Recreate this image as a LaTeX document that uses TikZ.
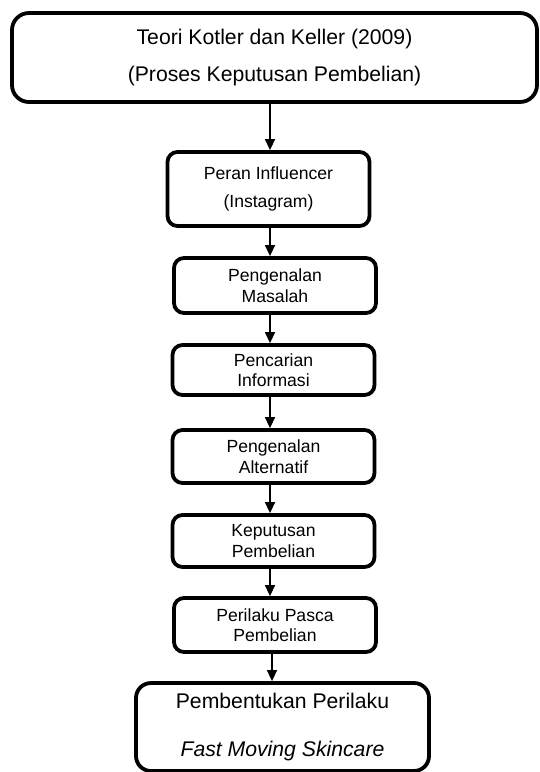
\documentclass[tikz,border=0pt]{standalone}
\usepackage{fontspec}
\setmainfont{Liberation Sans}
\usetikzlibrary{arrows.meta}
\tikzset{
  box/.style={draw=black, line width=3.8pt, fill=white, align=center, inner sep=2pt},
  bigbox/.style={box, rounded corners=17pt, font=\fontsize{21.2}{37}\selectfont},
  midbox/.style={box, rounded corners=10pt, minimum width=202pt, font=\fontsize{17.6}{20.5}\selectfont},
  arr/.style={line width=1.4pt, -{Triangle[length=11pt,width=10pt]}}
}
\begin{document}
\begin{tikzpicture}[x=1pt,y=-1pt]
\useasboundingbox (0,0) rectangle (539,772);
\node[bigbox, minimum width=525pt, minimum height=89pt] (top) at (274.5,57.5) {Teori Kotler dan Keller (2009)\\(Proses Keputusan Pembelian)};
\node[midbox, minimum height=74pt, font=\fontsize{17.6}{28}\selectfont] (b2) at (268.5,189) {Peran Influencer\\(Instagram)};
\node[midbox, minimum height=55pt] (b3) at (275,285.5) {Pengenalan\\Masalah};
\node[midbox, minimum height=50pt] (b4) at (273.5,370) {Pencarian\\Informasi};
\node[midbox, minimum height=53pt] (b5) at (273.5,456.5) {Pengenalan\\Alternatif};
\node[midbox, minimum height=52pt] (b6) at (273.5,541) {Keputusan\\Pembelian};
\node[midbox, minimum height=54pt] (b7) at (275,625) {Perilaku Pasca\\Pembelian};
\node[bigbox, rounded corners=15pt, minimum width=293pt, minimum height=88pt, font=\fontsize{21.2}{48}\selectfont] (b8) at (282.5,727) {Pembentukan Perilaku\\\textit{Fast Moving Skincare}};
\coordinate (ax) at (270,0);
\draw[arr] (top.south -| ax) -- (b2.north -| ax);
\draw[arr] (b2.south -| ax) -- (b3.north -| ax);
\draw[arr] (b3.south -| ax) -- (b4.north -| ax);
\draw[arr] (b4.south -| ax) -- (b5.north -| ax);
\draw[arr] (b5.south -| ax) -- (b6.north -| ax);
\draw[arr] (b6.south -| ax) -- (b7.north -| ax);
\coordinate (bx) at (272,0);
\draw[arr] (b7.south -| bx) -- (b8.north -| bx);
\end{tikzpicture}
\end{document}
